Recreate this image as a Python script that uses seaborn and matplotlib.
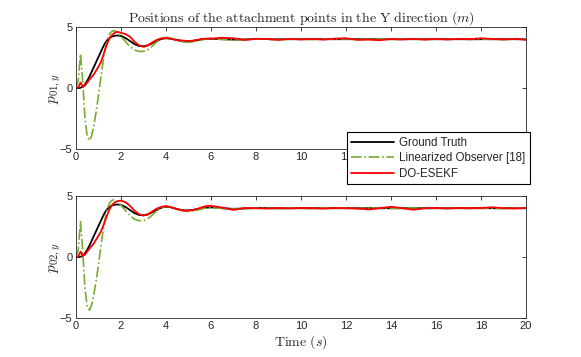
import matplotlib
matplotlib.use("Agg")
import matplotlib.pyplot as plt
import seaborn as sns

# time grid (s)
t = [0.0, 0.1, 0.2, 0.3, 0.4, 0.5, 0.6, 0.7, 0.8, 0.9, 1.0,
     1.1, 1.2, 1.3, 1.4, 1.5, 1.6, 1.7, 1.8, 1.9, 2.0,
     2.2, 2.4, 2.6, 2.8, 3.0, 3.2, 3.4, 3.6, 3.8, 4.0,
     4.2, 4.4, 4.6, 4.8, 5.0, 5.2, 5.4, 5.6, 5.8, 6.0,
     6.5, 7.0, 7.5, 8.0, 8.5, 9.0, 9.5, 10.0, 10.5, 11.0,
     11.5, 12.0, 12.5, 13.0, 13.5, 14.0, 14.5, 15.0, 15.5, 16.0,
     16.5, 17.0, 17.5, 18.0, 18.5, 19.0, 19.5, 20.0]

# ground truth
gt1 = [0.0, 0.0, 0.02, 0.1, 0.3, 0.6, 0.95, 1.35, 1.75, 2.15, 2.55,
       2.95, 3.35, 3.7, 3.95, 4.12, 4.22, 4.28, 4.3, 4.3, 4.27,
       4.1, 3.85, 3.6, 3.45, 3.42, 3.5, 3.68, 3.88, 4.02, 4.08,
       4.05, 3.98, 3.9, 3.85, 3.84, 3.87, 3.93, 3.99, 4.03, 4.04,
       4.0, 3.97, 3.98, 4.01, 4.01, 3.99, 4.0, 4.0, 4.01, 4.0,
       4.0, 4.0, 4.0, 4.0, 4.0, 4.0, 4.0, 4.0, 4.0, 4.0,
       4.0, 4.0, 4.0, 4.0, 4.0, 4.0, 4.0, 4.0]
gt2 = [0.0, 0.0, 0.02, 0.1, 0.3, 0.6, 0.95, 1.35, 1.75, 2.15, 2.55,
       2.95, 3.35, 3.7, 3.95, 4.12, 4.22, 4.28, 4.3, 4.3, 4.27,
       4.1, 3.85, 3.6, 3.45, 3.42, 3.5, 3.68, 3.88, 4.05, 4.12,
       4.08, 3.98, 3.88, 3.82, 3.82, 3.86, 3.93, 4.0, 4.05, 4.07,
       4.0, 3.95, 3.98, 4.01, 4.01, 3.99, 4.0, 4.0, 4.0, 4.0,
       4.0, 4.0, 4.0, 4.0, 4.0, 4.0, 4.0, 4.0, 4.0, 4.0,
       4.0, 4.0, 4.0, 4.0, 4.0, 4.0, 4.0, 4.0]

# linearized observer [18]
lo1 = [0.0, 0.6, 2.8, 0.5, -2.5, -4.0, -4.3, -3.9, -3.0, -1.9, -0.6,
       0.8, 2.1, 3.2, 4.0, 4.45, 4.65, 4.7, 4.62, 4.45, 4.25,
       3.8, 3.4, 3.12, 3.0, 3.0, 3.15, 3.45, 3.8, 4.05, 4.15,
       4.1, 3.98, 3.85, 3.77, 3.75, 3.78, 3.85, 3.95, 4.02, 4.05,
       3.98, 3.93, 3.97, 4.03, 4.0, 3.95, 4.02, 4.0, 3.97, 4.02,
       4.0, 4.03, 3.97, 4.0, 4.02, 3.98, 4.0, 4.02, 3.98, 4.01,
       3.99, 4.02, 3.98, 4.02, 4.0, 3.98, 4.01, 4.0]
lo2 = [0.0, 0.6, 2.9, 0.5, -2.6, -4.1, -4.35, -3.9, -3.0, -1.9, -0.6,
       0.8, 2.1, 3.2, 4.0, 4.45, 4.65, 4.7, 4.6, 4.45, 4.25,
       3.8, 3.4, 3.1, 2.98, 2.98, 3.15, 3.45, 3.8, 4.05, 4.15,
       4.1, 3.98, 3.85, 3.78, 3.75, 3.78, 3.85, 3.95, 4.02, 4.05,
       3.98, 3.93, 3.97, 4.02, 4.0, 3.96, 4.02, 4.0, 3.97, 4.02,
       4.0, 4.02, 3.97, 4.0, 4.02, 3.98, 4.0, 4.02, 3.98, 4.01,
       3.99, 4.02, 3.98, 4.01, 4.0, 3.98, 4.01, 4.0]

# DO-ESEKF
ek1 = [0.0, 0.05, 0.45, 0.1, 0.2, 0.45, 0.7, 0.9, 1.15, 1.45, 1.75,
       2.1, 2.6, 3.2, 3.7, 4.1, 4.35, 4.5, 4.6, 4.58, 4.52,
       4.42, 4.2, 3.8, 3.5, 3.38, 3.5, 3.75, 3.95, 4.08, 4.1,
       4.05, 3.95, 3.9, 3.88, 3.86, 3.88, 3.95, 4.02, 4.05, 4.05,
       4.12, 4.08, 3.94, 4.04, 4.01, 3.95, 4.03, 3.98, 4.02, 3.97,
       4.05, 4.08, 3.95, 3.97, 3.92, 4.02, 3.98, 4.03, 3.97, 4.02,
       3.98, 4.03, 4.0, 4.08, 4.02, 3.98, 4.03, 3.95]
ek2 = [0.0, 0.05, 0.45, 0.1, 0.2, 0.45, 0.7, 0.9, 1.15, 1.45, 1.75,
       2.05, 2.5, 3.0, 3.5, 3.95, 4.25, 4.45, 4.55, 4.6, 4.62,
       4.5, 4.2, 3.8, 3.5, 3.4, 3.5, 3.75, 3.98, 4.12, 4.18,
       4.1, 3.98, 3.88, 3.8, 3.8, 3.86, 3.95, 4.08, 4.18, 4.2,
       4.05, 3.86, 4.02, 4.0, 3.97, 4.02, 3.98, 4.02, 4.0, 3.97,
       4.02, 4.0, 3.98, 3.9, 4.0, 4.12, 4.0, 3.88, 4.0, 4.02,
       3.98, 4.02, 4.0, 4.02, 4.08, 4.0, 3.98, 4.02]

sns.set_style("white")
plt.rcParams["mathtext.fontset"] = "cm"
plt.rcParams["font.family"] = ["Liberation Sans", "DejaVu Sans"]
plt.rcParams["font.size"] = 8

fig = plt.figure(figsize=(5.81, 3.57), dpi=100)
ax1 = fig.add_axes([0.1308, 0.5826, 0.7745, 0.3417])
ax2 = fig.add_axes([0.1308, 0.1092, 0.7745, 0.3417])

green = "#77AC30"
panels = [(ax1, gt1, lo1, ek1, r"$p_{01,y}$"), (ax2, gt2, lo2, ek2, r"$p_{02,y}$")]
for ax, gt, lo, ek, lab in panels:
    sns.lineplot(x=t, y=gt, ax=ax, color="black", linewidth=1.3, label="Ground Truth")
    sns.lineplot(x=t, y=lo, ax=ax, color=green, linewidth=1.2, linestyle="-.",
                 label="Linearized Observer [18]")
    sns.lineplot(x=t, y=ek, ax=ax, color="#FF0000", linewidth=1.3, label="DO-ESEKF")
    ax.set_xlim(0, 20)
    ax.set_ylim(-5, 5)
    ax.set_xticks(range(0, 21, 2))
    ax.set_yticks([-5, 0, 5])
    ax.tick_params(direction="in", length=3, width=0.6, top=True, right=True,
                   labelsize=8, pad=2.5, colors="#262626")
    for s in ax.spines.values():
        s.set_linewidth(0.6)
        s.set_color("#262626")
    ax.set_ylabel(lab, fontsize=11)
    ax.yaxis.set_label_coords(-0.028, 0.5)
    ax.get_legend().remove()

ax1.set_title(r"$\mathrm{Positions\ of\ the\ attachment\ points\ in\ the\ Y\ direction}\ (m)$",
              fontsize=10, pad=4)
ax2.set_xlabel(r"$\mathrm{Time}\ (s)$", fontsize=10, labelpad=1)

h, l = ax1.get_legend_handles_labels()
leg = fig.legend(h, l, loc="upper right", bbox_to_anchor=(0.912, 0.630),
                 prop={"size": 8.3}, frameon=True, fancybox=False, framealpha=1,
                 edgecolor="black", borderpad=0.4, labelspacing=0.3,
                 handlelength=3.7, handletextpad=0.45, borderaxespad=0)
leg.get_frame().set_linewidth(0.8)
leg.set_zorder(10)

fig.savefig("out.png", dpi=100)
